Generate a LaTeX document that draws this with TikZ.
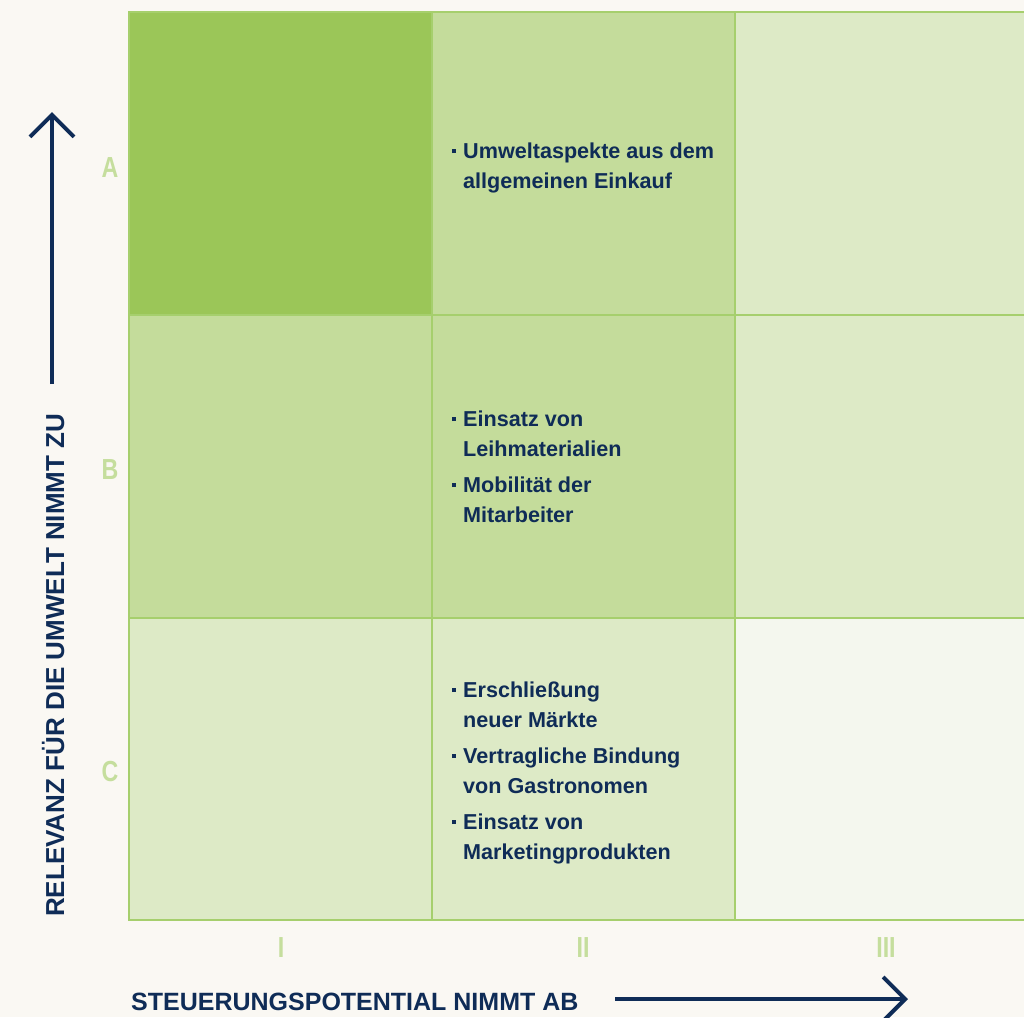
\documentclass[tikz,border=0pt]{standalone}
\usepackage{fontspec}
\setmainfont{Liberation Sans}
\newfontfamily\narrowfont[FakeStretch=0.8]{Liberation Sans}
\usetikzlibrary{arrows.meta}

\definecolor{paper}{HTML}{FAF8F3}
\definecolor{gdark}{HTML}{9BC658}
\definecolor{gmid}{HTML}{C4DC9B}
\definecolor{glight}{HTML}{DDEAC6}
\definecolor{gpale}{HTML}{F4F7EE}
\definecolor{gline}{HTML}{A6CF6D}
\definecolor{glabel}{HTML}{C5DE9D}
\definecolor{navy}{HTML}{0F2C57}

% square bullet hanging left of the item text
\newcommand{\bul}{\leavevmode\llap{\rule[5pt]{4pt}{4pt}\hspace{7pt}}}

\tikzset{
  cell/.style={draw=gline, line width=1.4pt},
  itemtext/.style={anchor=base west, inner sep=0pt, text=navy,
    font=\bfseries\fontsize{21.6}{30}\selectfont},
  rowlabel/.style={text=glabel, font=\narrowfont\bfseries\fontsize{29}{29}\selectfont, inner sep=0pt},
  axislabel/.style={text=navy, font=\bfseries\fontsize{25}{25}\selectfont, inner sep=0pt},
  axisarrow/.style={draw=navy, line width=4pt,
    -{Straight Barb[length=22pt, width=44pt, line width=4pt]}}
}

\begin{document}
\begin{tikzpicture}[x=1pt, y=-1pt]
  \useasboundingbox (0,0) rectangle (1024,1017);
  \fill[paper] (0,0) rectangle (1024,1017);

  % matrix cells: columns I, II, III / rows A, B, C
  \fill[gdark]  (129,12)  rectangle (432,315);
  \fill[gmid]   (432,12)  rectangle (735,315);
  \fill[glight] (735,12)  rectangle (1024,315);
  \fill[gmid]   (129,315) rectangle (432,618);
  \fill[gmid]   (432,315) rectangle (735,618);
  \fill[glight] (735,315) rectangle (1024,618);
  \fill[glight] (129,618) rectangle (432,920);
  \fill[glight] (432,618) rectangle (735,920);
  \fill[gpale]  (735,618) rectangle (1024,920);

  % grid lines
  \draw[cell] (1024,12) -- (129,12) -- (129,920) -- (1024,920);
  \draw[cell] (432,12) -- (432,920);
  \draw[cell] (735,12) -- (735,920);
  \draw[cell] (129,315) -- (1024,315);
  \draw[cell] (129,618) -- (1024,618);

  % row labels
  \node[rowlabel] (rA) at (110,168) {A};
  \node[rowlabel] (rB) at (110,470) {B};
  \node[rowlabel] (rC) at (110,772) {C};

  % column labels
  \node[rowlabel] (cI)   at (281,948) {I};
  \node[rowlabel] (cII)  at (583,948) {II};
  \node[rowlabel] (cIII) at (886,948) {III};

  % cell contents
  \node[itemtext] (tA) at (463,158) {\parbox[t]{260pt}{\raggedright
    \bul Umweltaspekte aus dem\\ allgemeinen Einkauf}};
  \node[itemtext] (tB) at (463,426) {\parbox[t]{260pt}{\raggedright
    \bul Einsatz von\\ Leihmaterialien\\[6pt]
    \bul Mobilität der\\ Mitarbeiter}};
  \node[itemtext] (tC) at (463,697) {\parbox[t]{260pt}{\raggedright
    \bul Erschließung\\ neuer Märkte\\[6pt]
    \bul Vertragliche Bindung\\ von Gastronomen\\[6pt]
    \bul Einsatz von\\ Marketingprodukten}};

  % axes
  \node[axislabel, rotate=90, anchor=base west, font=\bfseries\fontsize{26}{26}\selectfont]
    (yl) at (64,917) {RELEVANZ FÜR DIE UMWELT NIMMT ZU};
  \coordinate (ystart) at (52,384);
  \coordinate (yend) at (52,112);
  \draw[axisarrow] (ystart) -- (yend);

  \node[axislabel, anchor=base west] (xl) at (131,1010)
    {STEUERUNGSPOTENTIAL NIMMT AB};
  \coordinate (xstart) at (615,999);
  \coordinate (xend) at (908,999);
  \draw[axisarrow] (xstart) -- (xend);
\end{tikzpicture}
\end{document}
